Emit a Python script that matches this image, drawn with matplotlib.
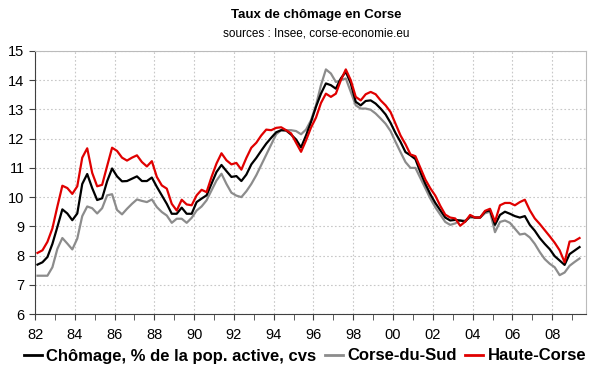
import numpy as np
import matplotlib
matplotlib.use('Agg')
import matplotlib.pyplot as plt
from matplotlib.lines import Line2D

plt.rcParams['font.family'] = ['Liberation Sans', 'DejaVu Sans']

# quarterly unemployment rates, 1982Q1 -> 2009Q2
chomage = [7.69, 7.77, 7.95, 8.4, 8.98, 9.58, 9.44, 9.21, 9.44, 10.45,
           10.79, 10.31, 9.9, 9.96, 10.54, 10.98, 10.71, 10.54, 10.55, 10.63,
           10.71, 10.55, 10.55, 10.67, 10.35, 10.06, 9.77, 9.43, 9.43, 9.64,
           9.43, 9.43, 9.83, 9.95, 10.06, 10.46, 10.86, 11.1, 10.89, 10.69,
           10.72, 10.55, 10.77, 11.12, 11.34, 11.59, 11.83, 12.03, 12.22, 12.29,
           12.28, 12.14, 11.97, 11.7, 12.11, 12.57, 13.09, 13.54, 13.89, 13.83,
           13.71, 14.06, 14.29, 13.89, 13.26, 13.14, 13.29, 13.31, 13.2, 13.03,
           12.83, 12.54, 12.19, 11.89, 11.54, 11.43, 11.3, 10.85, 10.45, 10.1,
           9.8, 9.55, 9.3, 9.2, 9.22, 9.2, 9.16, 9.35, 9.3, 9.3,
           9.5, 9.55, 9.05, 9.39, 9.5, 9.43, 9.35, 9.3, 9.35, 9.05,
           8.85, 8.6, 8.4, 8.22, 7.98, 7.83, 7.68, 8.05, 8.17, 8.29]

corse_du_sud = [7.31, 7.31, 7.31, 7.6, 8.23, 8.6, 8.41, 8.21, 8.58, 9.35,
                9.68, 9.62, 9.44, 9.62, 10.06, 10.1, 9.56, 9.41, 9.6, 9.77,
                9.92, 9.87, 9.83, 9.92, 9.66, 9.49, 9.37, 9.12, 9.26, 9.26,
                9.12, 9.29, 9.54, 9.68, 9.89, 10.23, 10.57, 10.8, 10.45, 10.15,
                10.05, 10.0, 10.2, 10.45, 10.75, 11.1, 11.45, 11.8, 12.15, 12.29,
                12.29, 12.29, 12.26, 12.15, 12.31, 12.63, 13.14, 13.83, 14.37, 14.23,
                13.94, 14.0, 14.06, 13.6, 13.14, 13.03, 13.03, 12.99, 12.86, 12.69,
                12.51, 12.26, 11.89, 11.54, 11.2, 11.0, 11.0, 10.65, 10.3, 9.95,
                9.65, 9.4, 9.15, 9.05, 9.1, 9.2, 9.2, 9.3, 9.3, 9.3,
                9.45, 9.5, 8.8, 9.15, 9.2, 9.12, 8.92, 8.72, 8.75, 8.62,
                8.4, 8.12, 7.88, 7.72, 7.6, 7.33, 7.42, 7.65, 7.78, 7.9]

haute_corse = [8.09, 8.18, 8.47, 8.93, 9.68, 10.39, 10.31, 10.11, 10.37, 11.35,
               11.67, 10.83, 10.37, 10.42, 11.06, 11.69, 11.58, 11.35, 11.25, 11.35,
               11.43, 11.2, 11.05, 11.23, 10.69, 10.4, 10.29, 9.77, 9.54, 9.91,
               9.75, 9.72, 10.06, 10.25, 10.17, 10.69, 11.15, 11.5, 11.26, 11.12,
               11.17, 10.94, 11.34, 11.69, 11.86, 12.11, 12.31, 12.29, 12.37, 12.39,
               12.29, 12.18, 11.86, 11.55, 11.94, 12.38, 12.72, 13.22, 13.54, 13.43,
               13.54, 14.0, 14.37, 14.0, 13.43, 13.31, 13.52, 13.6, 13.52, 13.31,
               13.14, 12.91, 12.51, 12.11, 11.81, 11.46, 11.4, 11.0, 10.6, 10.3,
               10.05, 9.7, 9.4, 9.3, 9.27, 9.02, 9.16, 9.39, 9.3, 9.3,
               9.53, 9.6, 9.16, 9.72, 9.8, 9.8, 9.72, 9.83, 9.91, 9.55,
               9.27, 9.08, 8.87, 8.66, 8.44, 8.18, 7.77, 8.48, 8.5, 8.6]

year_ticks = list(range(1982, 2009, 2))
year_labels = ['82', '84', '86', '88', '90', '92', '94', '96', '98', '00',
               '02', '04', '06', '08']

quarters = 1982 + (np.arange(len(chomage)) + 0.5) / 4

fig = plt.figure(figsize=(6, 3.72), dpi=100)
ax = fig.add_axes([35 / 600, 1 - 314 / 372, 551 / 600, 263 / 372])

ax.plot(quarters, corse_du_sud, color='#8c8c8c', lw=1.6)
ax.plot(quarters, chomage, color='black', lw=1.6)
ax.plot(quarters, haute_corse, color='#e00000', lw=1.6)

ax.set_xlim(1982, 2009.7)
ax.set_ylim(6, 15)
ax.set_yticks(range(6, 16))
ax.set_xticks(year_ticks)
ax.set_xticklabels(year_labels)
ax.set_xticks(range(1983, 2010, 2), minor=True)
ax.grid(True, color='#c8c8c8', linestyle=(0, (1.5, 2)), lw=0.8)
ax.set_axisbelow(True)

for s in ['top', 'right']:
    ax.spines[s].set_color('#bbbbbb')
for s in ['left', 'bottom']:
    ax.spines[s].set_color('#404040')
ax.tick_params(which='both', direction='out', length=4, color='#404040', labelsize=10.5)
ax.tick_params(axis='x', pad=6)

fig.text(316 / 600, 1 - 15 / 372, 'Taux de chômage en Corse', ha='center', va='center',
         fontsize=9.5, fontweight='bold')
fig.text(316 / 600, 1 - 33 / 372, 'sources : Insee, corse-economie.eu', ha='center',
         va='center', fontsize=8.5)

handles = [Line2D([], [], color='black', lw=2),
           Line2D([], [], color='#8c8c8c', lw=2),
           Line2D([], [], color='#e00000', lw=2)]
fig.legend(handles, ['Chômage, % de la pop. active, cvs', 'Corse-du-Sud', 'Haute-Corse'],
           loc='center', bbox_to_anchor=(305 / 600, 1 - 356 / 372), ncol=3, frameon=False,
           prop={'weight': 'bold', 'size': 12}, handlelength=1.1, handletextpad=0.25,
           columnspacing=0.5, borderpad=0)

fig.savefig('out.png', dpi=100)
